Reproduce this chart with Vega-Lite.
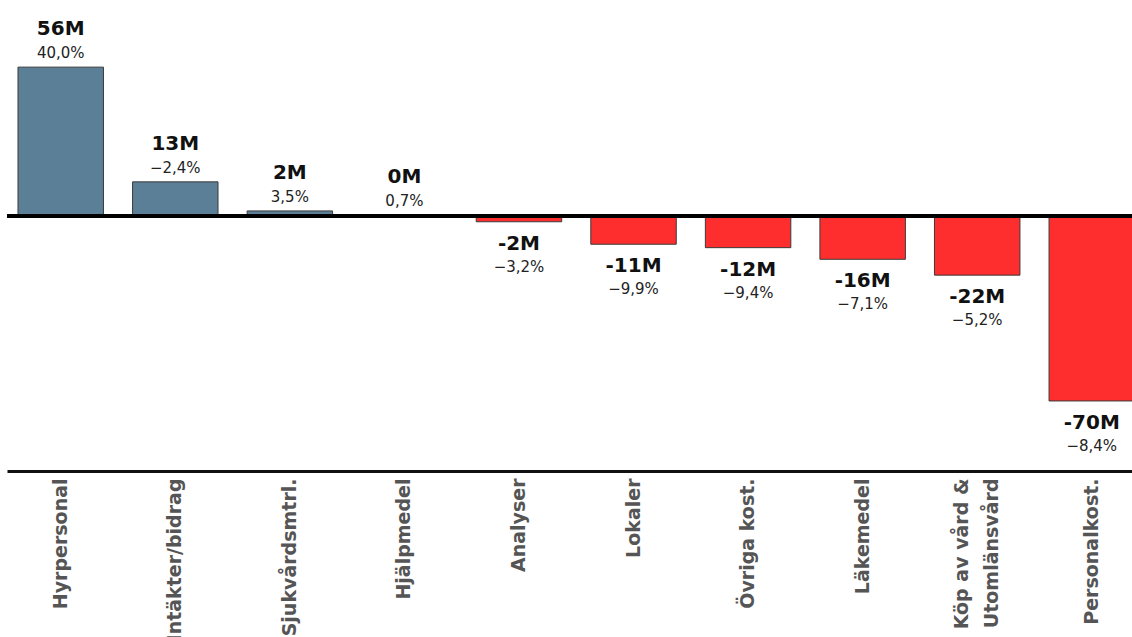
{
  "$schema": "https://vega.github.io/schema/vega-lite/v6.json",
  "width": 1125,
  "height": 471,
  "autosize": {"type": "none"},
  "padding": {"left": 7, "top": 0, "right": 0, "bottom": 166},
  "background": "white",
  "config": {
    "view": {"stroke": null},
    "axisX": {
      "labelAngle": -90,
      "labelAlign": "right",
      "labelBaseline": "middle",
      "labelFont": "DejaVu Sans",
      "labelFontSize": 19,
      "labelFontWeight": "bold",
      "labelColor": "#555555",
      "labelPadding": 7,
      "labelLimit": 400,
      "labelLineHeight": 30,
      "ticks": false,
      "domainColor": "#111111",
      "domainWidth": 3,
      "grid": false
    }
  },
  "data": {
    "values": [
      {"cat": "Hyrpersonal", "value": 56.3, "label": "56M", "pct": "40,0%"},
      {"cat": "Intäkter/bidrag", "value": 12.9, "label": "13M", "pct": "−2,4%"},
      {"cat": "Sjukvårdsmtrl.", "value": 1.9, "label": "2M", "pct": "3,5%"},
      {"cat": "Hjälpmedel", "value": 0.3, "label": "0M", "pct": "0,7%"},
      {"cat": "Analyser", "value": -2.2, "label": "-2M", "pct": "−3,2%"},
      {"cat": "Lokaler", "value": -10.7, "label": "-11M", "pct": "−9,9%"},
      {"cat": "Övriga kost.", "value": -12.0, "label": "-12M", "pct": "−9,4%"},
      {"cat": "Läkemedel", "value": -16.4, "label": "-16M", "pct": "−7,1%"},
      {"cat": "Köp av vård &\nUtomlänsvård", "value": -22.4, "label": "-22M", "pct": "−5,2%"},
      {"cat": "Personalkost.", "value": -70.0, "label": "-70M", "pct": "−8,4%"}
    ]
  },
  "layer": [
    {
      "mark": {"type": "bar", "stroke": "#3a3a3a", "strokeWidth": 1},
      "encoding": {
        "x": {
          "field": "cat",
          "type": "nominal",
          "sort": null,
          "title": null,
          "scale": {"paddingInner": 0.254, "paddingOuter": 0.096, "rangeMax": 1138.5},
          "axis": {
            "labelExpr": "split(datum.label, '\\n')",
            "labelOffset": {"condition": {"test": "indexof(datum.value, 'Utoml') >= 0", "value": -15}, "value": 0}
          }
        },
        "y": {
          "field": "value",
          "type": "quantitative",
          "scale": {"domain": [-96.5, 81.7], "nice": false},
          "axis": null
        },
        "color": {
          "condition": {"test": "datum.value >= 0", "value": "#5a7f96"},
          "value": "#ff2e2e"
        }
      }
    },
    {
      "mark": {"type": "rule", "color": "#000000", "strokeWidth": 3.5},
      "encoding": {"y": {"datum": 0, "type": "quantitative"}}
    },
    {
      "transform": [{"filter": "datum.value >= 0"}],
      "mark": {"type": "text", "font": "DejaVu Sans", "fontSize": 20, "fontWeight": "bold", "color": "#111111", "baseline": "alphabetic", "dy": -32},
      "encoding": {
        "x": {"field": "cat", "type": "nominal", "sort": null, "title": null},
        "y": {"field": "value", "type": "quantitative"},
        "text": {"field": "label"}
      }
    },
    {
      "transform": [{"filter": "datum.value >= 0"}],
      "mark": {"type": "text", "font": "DejaVu Sans", "fontSize": 15, "color": "#222222", "baseline": "alphabetic", "dy": -9},
      "encoding": {
        "x": {"field": "cat", "type": "nominal", "sort": null, "title": null},
        "y": {"field": "value", "type": "quantitative"},
        "text": {"field": "pct"}
      }
    },
    {
      "transform": [{"filter": "datum.value < 0"}],
      "mark": {"type": "text", "font": "DejaVu Sans", "fontSize": 20, "fontWeight": "bold", "color": "#111111", "baseline": "alphabetic", "dy": 28},
      "encoding": {
        "x": {"field": "cat", "type": "nominal", "sort": null, "title": null},
        "y": {"field": "value", "type": "quantitative"},
        "text": {"field": "label"}
      }
    },
    {
      "transform": [{"filter": "datum.value < 0"}],
      "mark": {"type": "text", "font": "DejaVu Sans", "fontSize": 15, "color": "#222222", "baseline": "alphabetic", "dy": 50},
      "encoding": {
        "x": {"field": "cat", "type": "nominal", "sort": null, "title": null},
        "y": {"field": "value", "type": "quantitative"},
        "text": {"field": "pct"}
      }
    }
  ]
}
